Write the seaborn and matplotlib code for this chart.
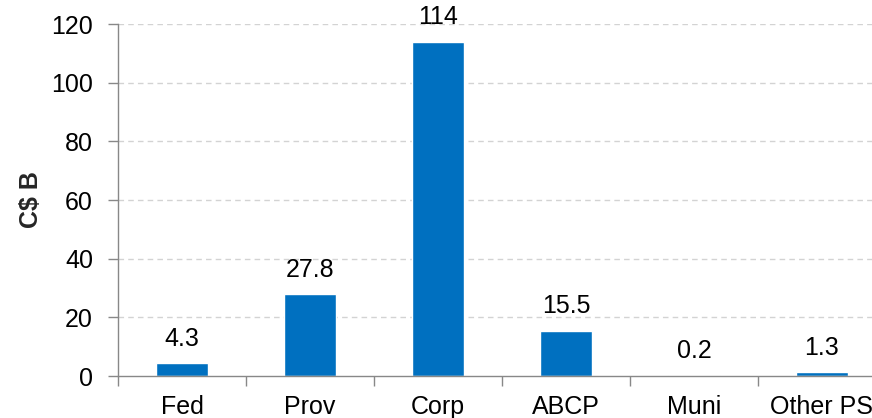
import matplotlib
matplotlib.use("Agg")
import matplotlib.pyplot as plt
import seaborn as sns
import pandas as pd
from matplotlib.ticker import FixedLocator

categories = ["Fed", "Prov", "Corp", "ABCP", "Muni", "Other PS"]
values = [4.3, 27.8, 114, 15.5, 0.2, 1.3]
value_labels = ["4.3", "27.8", "114", "15.5", "0.2", "1.3"]
y_ticks = [0, 20, 40, 60, 80, 100, 120]

sns.set_theme(style="white")
plt.rcParams['font.family'] = ['Liberation Sans', 'DejaVu Sans']

FS = 18

df = pd.DataFrame({"cat": categories, "val": values})

fig = plt.figure(figsize=(8.72, 4.18), dpi=100)
ax = fig.add_axes([118/872, 42/418, 768/872, 352/418])

sns.barplot(data=df, x="cat", y="val", color="#0070C0", width=0.4, ax=ax,
            saturation=1, zorder=3)

ax.bar_label(ax.containers[0], labels=value_labels, padding=9, fontsize=FS,
             color="black")

ax.set_xlim(-0.5, len(categories) - 0.5)
ax.set_ylim(0, 120)
ax.set_yticks(y_ticks)
ax.set_yticklabels([str(t) for t in y_ticks], fontsize=FS)
ax.tick_params(axis="y", which="major", left=True, length=7, width=1, color="#888888",
               pad=11, labelcolor="black")
ax.tick_params(axis="x", which="major", bottom=False, length=0, pad=14,
               labelsize=FS, labelcolor="black")
ax.xaxis.set_minor_locator(FixedLocator([i - 0.5 for i in range(len(categories) + 1)]))
ax.tick_params(axis="x", which="minor", bottom=True, length=7, width=1, color="#888888")

ax.set_xlabel("")
ax.set_ylabel("C$ B", fontsize=FS, fontweight="bold", labelpad=6)

for y in y_ticks[1:]:
    ax.axhline(y, color="#D3D3D3", linestyle=(0, (4, 3)), linewidth=1, zorder=1)

for s in ["top", "right"]:
    ax.spines[s].set_visible(False)
for s in ["left", "bottom"]:
    ax.spines[s].set_color("#888888")
    ax.spines[s].set_linewidth(1)
ax.spines["bottom"].set_zorder(4)

fig.savefig("out.png", dpi=100)
